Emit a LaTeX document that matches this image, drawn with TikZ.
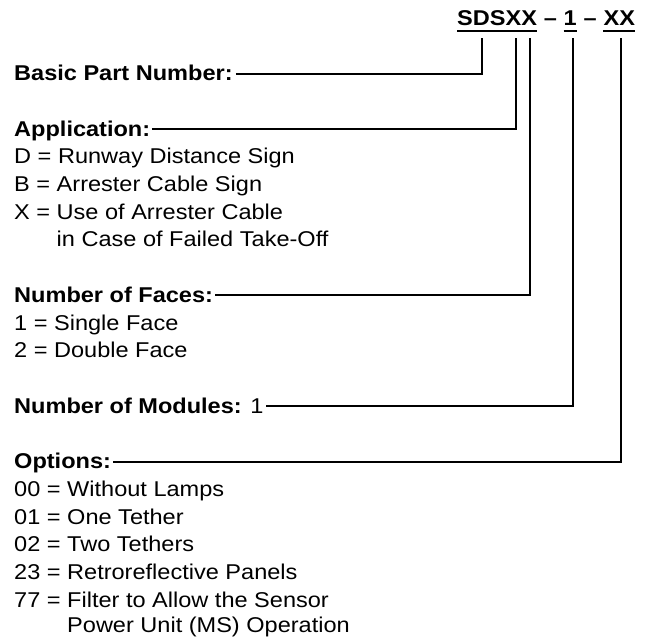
\documentclass[tikz,border=0pt]{standalone}
\usepackage{fontspec}
\setmainfont[FakeStretch=1.1]{Liberation Sans}
\begin{document}
\begin{tikzpicture}[x=1pt,y=1pt,
  txt/.style={anchor=base west, inner sep=0pt, font=\fontsize{21.4}{27.7}\selectfont},
  hd/.style={anchor=base west, inner sep=0pt, font=\fontsize{21.4}{27.7}\selectfont\bfseries},
  conn/.style={line width=1.8pt, line join=miter},
  uline/.style={line width=2.2pt}]
\useasboundingbox (0,0) rectangle (653,-637);

% header
\node[hd] (hS) at (457,-25.1) {SDSXX};
\node[hd] (hD1) at (hS.base east) {\kern0.3em–\kern0.3em};
\node[hd] (h1) at (hD1.base east) {1};
\node[hd] (hD2) at (h1.base east) {\kern0.3em–\kern0.3em};
\node[hd] (hX) at (hD2.base east) {XX};
\draw[uline] ([yshift=-5.6pt]hS.base west) -- ([yshift=-5.6pt]hS.base east);
\draw[uline] ([yshift=-5.6pt]h1.base west) -- ([yshift=-5.6pt]h1.base east);
\draw[uline] ([yshift=-5.6pt]hX.base west) -- ([yshift=-5.6pt]hX.base east);

\coordinate (tB) at (482,-38);
\coordinate (tA) at (516,-38);
\coordinate (tF) at (530,-38);
\coordinate (tM) at (573,-38);
\coordinate (tO) at (621,-38);

% Basic part number
\node[hd] (bpn) at (14,-80.6) {Basic Part Number:};

% Application
\node[hd] (app) at (14,-136) {Application:};
\node[txt] (appD) at (14,-163.7) {D = Runway Distance Sign};
\node[txt] (appB) at (14,-191.4) {B = Arrester Cable Sign};
\node[txt] (appX) at (14,-219.2) {X = Use of Arrester Cable};
\node[txt] (appX2) at (14,-246.9) {\hphantom{X =\ }in Case of Failed Take-Off};

% Faces
\node[hd] (fac) at (14,-302.3) {Number of Faces:};
\node[txt] (fac1) at (14,-330) {1 = Single Face};
\node[txt] (fac2) at (14,-357.8) {2 = Double Face};

% Modules
\node[txt] (mod) at (14,-413.2) {\textbf{Number of Modules:} 1};

% Options
\node[hd] (opt) at (14,-468.6) {Options:};
\node[txt] (opt00) at (14,-496.4) {00 = Without Lamps};
\node[txt] (opt01) at (14,-524.1) {01 = One Tether};
\node[txt] (opt02) at (14,-551.8) {02 = Two Tethers};
\node[txt] (opt23) at (14,-579.5) {23 = Retroreflective Panels};
\node[txt] (opt77) at (14,-607.2) {77 = Filter to Allow the Sensor};
\node[txt] (opt77b) at (14,-632.5) {\hphantom{77 =\ }Power Unit (MS) Operation};

% connectors
\draw[conn] ([xshift=3pt,yshift=7pt]bpn.base east) -| (tB);
\draw[conn] ([xshift=1.5pt,yshift=7pt]app.base east) -| (tA);
\draw[conn] ([xshift=2pt,yshift=7pt]fac.base east) -| (tF);
\draw[conn] ([xshift=2.5pt,yshift=7pt]mod.base east) -| (tM);
\draw[conn] ([xshift=2pt,yshift=7pt]opt.base east) -| (tO);
\end{tikzpicture}
\end{document}
